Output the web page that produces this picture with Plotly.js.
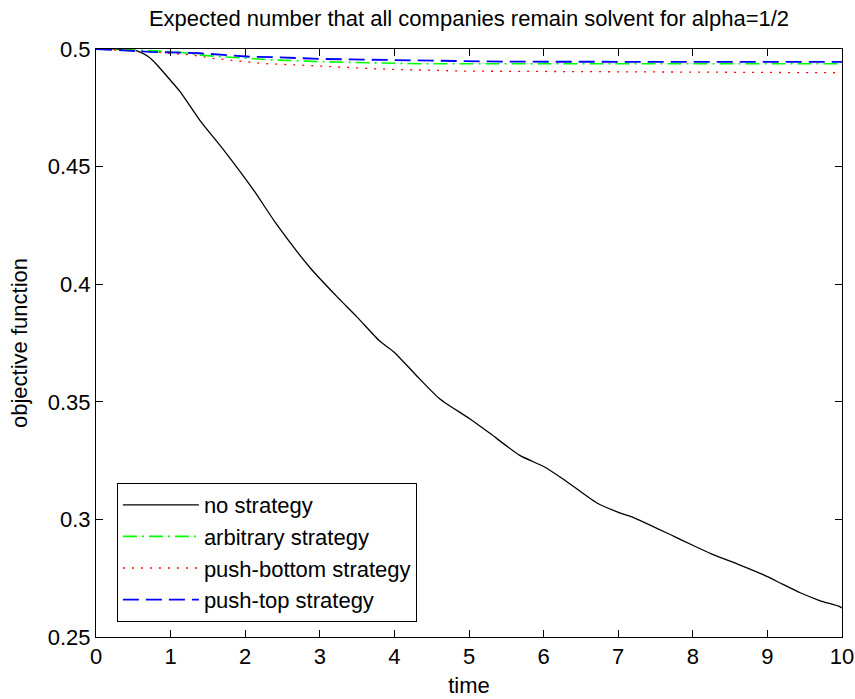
<!DOCTYPE html>
<html>
<head>
<meta charset="utf-8">
<script src="https://cdn.plot.ly/plotly-3.0.1.min.js"></script>
<style>
  html, body { margin: 0; padding: 0; background: #ffffff; }
  #chart { width: 855px; height: 699px; }
</style>
</head>
<body>
<div id="chart"></div>
<script>
// Simulated objective function over time, one series per strategy
const seriesNames = ['no strategy', 'arbitrary strategy', 'push-bottom strategy', 'push-top strategy'];

const noStrategyTime = [0, 0.3, 0.45, 0.55, 0.7, 0.81, 1.0, 1.13, 1.39, 1.71, 2.11, 2.42, 2.87, 3.23, 3.5, 3.81,
  4.0, 4.3, 4.61, 5.0, 5.28, 5.68, 6.0, 6.27, 6.71, 7.02, 7.2, 7.74, 8.0, 8.28, 8.6, 8.95, 9.2, 9.44, 9.7, 9.97, 10];
const noStrategyValue = [0.5, 0.5, 0.4998, 0.4992, 0.4968, 0.4935, 0.4866, 0.4818, 0.4698, 0.4571, 0.4401, 0.4255,
  0.407, 0.3947, 0.386, 0.3756, 0.371, 0.361, 0.3512, 0.343, 0.3366, 0.3272, 0.3225, 0.317, 0.3071, 0.3028, 0.3009,
  0.2929, 0.289, 0.2849, 0.281, 0.2764, 0.2725, 0.2688, 0.2655, 0.2629, 0.2623];

const arbitraryTime = [0, 0.8, 1.19, 1.4, 1.7, 2.0, 2.4, 2.7, 3.0, 4.35, 10];
const arbitraryValue = [0.5, 0.4992, 0.4984, 0.4974, 0.4967, 0.496, 0.4953, 0.495, 0.4946, 0.4937, 0.4937];

const pushBottomTime = [0, 0.7, 1.3, 1.57, 1.8, 2.24, 2.7, 3.18, 3.8, 4.92, 8.47, 10];
const pushBottomValue = [0.5, 0.4989, 0.4974, 0.496, 0.4953, 0.4938, 0.4932, 0.4924, 0.4915, 0.4906, 0.49, 0.4899];

const pushTopTime = [0, 0.72, 1.39, 1.7, 2.06, 2.38, 2.7, 3.0, 3.36, 5.45, 10];
const pushTopValue = [0.5, 0.4988, 0.4982, 0.4974, 0.4967, 0.4965, 0.496, 0.4958, 0.4956, 0.4946, 0.4945];

const xTicks = [0, 1, 2, 3, 4, 5, 6, 7, 8, 9, 10];
const yTicks = [0.25, 0.3, 0.35, 0.4, 0.45, 0.5];
const yTickText = ['0.25', '0.3', '0.35', '0.4', '0.45', '0.5'];

const FONT = 'Liberation Sans, Arial, Helvetica, sans-serif';
const FS = 22;

const traces = [
  { x: noStrategyTime, y: noStrategyValue, name: seriesNames[0], mode: 'lines',
    line: { color: '#000000', width: 1.3, shape: 'spline', smoothing: 0.6 } },
  { x: arbitraryTime, y: arbitraryValue, name: seriesNames[1], mode: 'lines',
    line: { color: '#00ff00', width: 1.6, dash: '14px,5px,2px,5px' } },
  { x: pushBottomTime, y: pushBottomValue, name: seriesNames[2], mode: 'lines',
    line: { color: '#ff0000', width: 1.3, dash: '2px,7px' } },
  { x: pushTopTime, y: pushTopValue, name: seriesNames[3], mode: 'lines',
    line: { color: '#0000ff', width: 1.8, dash: '16px,7px' } }
];

const axisCommon = {
  showline: true, linecolor: '#000000', linewidth: 1, mirror: 'ticks',
  ticks: 'inside', ticklen: 7, tickwidth: 1, tickcolor: '#000000',
  showgrid: false, zeroline: false,
  tickfont: { family: FONT, size: FS, color: '#000000' }
};

const layout = {
  width: 855, height: 699,
  margin: { l: 96, r: 13, t: 49, b: 62 },
  paper_bgcolor: '#ffffff', plot_bgcolor: '#ffffff',
  font: { family: FONT, color: '#000000' },
  title: { text: 'Expected number that all companies remain solvent for alpha=1/2',
    font: { family: FONT, size: FS, color: '#000000' },
    x: 0.5, xref: 'paper', y: 0.974, yref: 'container', yanchor: 'middle' },
  xaxis: Object.assign({}, axisCommon, {
    range: [0, 10], tickmode: 'array', tickvals: xTicks,
    title: { text: 'time', font: { family: FONT, size: FS, color: '#000000' }, standoff: 9 }
  }),
  yaxis: Object.assign({}, axisCommon, {
    range: [0.25, 0.5], tickmode: 'array', tickvals: yTicks, ticktext: yTickText,
    title: { text: 'objective function', font: { family: FONT, size: FS, color: '#000000' }, standoff: 14 }
  }),
  showlegend: true,
  legend: {
    x: 0.028, y: 0.0255, xanchor: 'left', yanchor: 'bottom',
    bgcolor: '#ffffff', bordercolor: '#000000', borderwidth: 1,
    font: { family: FONT, size: FS, color: '#000000' },
    itemwidth: 76, traceorder: 'normal'
  }
};

Plotly.newPlot('chart', traces, layout, { displayModeBar: false, staticPlot: true });
</script>
</body>
</html>
